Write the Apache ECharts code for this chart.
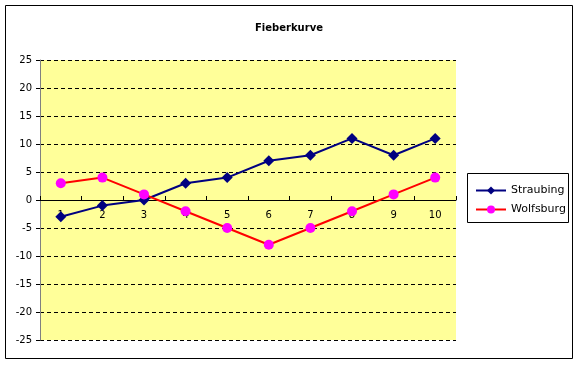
<!DOCTYPE html>
<html><head><meta charset="utf-8">
<script src="https://cdn.jsdelivr.net/npm/echarts@6/dist/echarts.min.js"></script>
<style>html,body{margin:0;padding:0;background:#fff}#c{width:578px;height:366px}</style>
</head><body><div id="c"></div>
<script>
const categories = ['1','2','3','4','5','6','7','8','9','10'];
const straubing = [-3, -1, 0, 3, 4, 7, 8, 11, 8, 11];
const wolfsburg = [3, 4, 1, -2, -5, -8, -5, -2, 1, 4];
const chart = echarts.init(document.getElementById('c'));
const font = 'Tahoma, "DejaVu Sans", sans-serif';
chart.setOption({
  animation: false,
  backgroundColor: '#fff',
  textStyle: {fontFamily: font},
  title: {text: 'Fieberkurve', left: 'center', top: 18,
    textStyle: {fontSize: 10, fontWeight: 'bold', color: '#000', fontFamily: font}},
  graphic: [
    {type: 'rect', shape: {x: 5.5, y: 5.5, width: 567, height: 353}, style: {fill: 'none', stroke: '#000', lineWidth: 1}, z: -10},
    {type: 'rect', shape: {x: 467.5, y: 173.5, width: 101, height: 49}, style: {fill: '#fff', stroke: '#000', lineWidth: 1}, z: 0}
  ],
  legend: {
    orient: 'vertical', left: 470, top: 180, itemGap: 8, itemWidth: 30, itemHeight: 10,
    textStyle: {fontSize: 11, color: '#000', fontFamily: font},
    data: ['Straubing', 'Wolfsburg']
  },
  grid: {left: 40, right: 122, top: 60, bottom: 26, show: true, backgroundColor: '#ffff99', borderWidth: 0},
  xAxis: {
    type: 'category', data: categories, boundaryGap: true,
    offset: -140,
    axisLine: {onZero: false, lineStyle: {color: '#000', width: 1}},
    axisTick: {show: true, inside: true, length: 4, lineStyle: {color: '#000'}},
    axisLabel: {fontSize: 10, color: '#000', margin: 10},
    splitLine: {show: false}
  },
  yAxis: {
    type: 'value', min: -25, max: 25, interval: 5,
    axisLine: {show: true, lineStyle: {color: '#808080'}},
    axisTick: {show: true, length: 4, lineStyle: {color: '#000'}},
    axisLabel: {fontSize: 10, color: '#000', margin: 8},
    splitLine: {show: true, lineStyle: {color: '#000', type: [4, 3], width: 1}}
  },
  series: [
    {name: 'Straubing', type: 'line', data: straubing, symbol: 'diamond', symbolSize: 11,
      lineStyle: {color: '#000080', width: 2}, itemStyle: {color: '#000080'}, z: 3},
    {name: 'Wolfsburg', type: 'line', data: wolfsburg, symbol: 'circle', symbolSize: 10,
      lineStyle: {color: '#ff0000', width: 2}, itemStyle: {color: '#ff00ff'}, z: 4}
  ]
});
</script></body></html>
